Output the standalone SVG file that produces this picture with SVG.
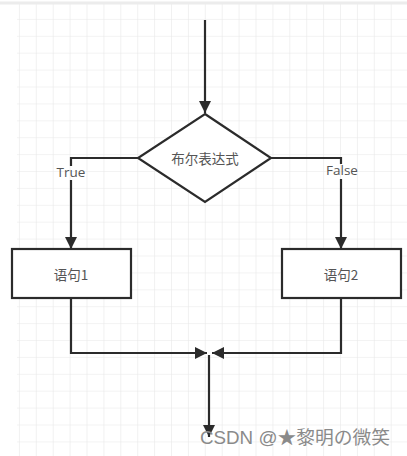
<svg xmlns="http://www.w3.org/2000/svg" width="407" height="456" viewBox="0 0 407 456">
<defs>
<pattern id="grid" x="3" y="3" width="16.9" height="16.9" patternUnits="userSpaceOnUse">
<path d="M16.9 0V16.9M0 16.9H16.9" fill="none" stroke="#e8e8e8" stroke-width="1.2"/>
</pattern>
<marker id="ah" viewBox="0 0 10 10" refX="10" refY="5" markerWidth="5.5" markerHeight="5.5" orient="auto" markerUnits="strokeWidth">
<path d="M0 0L10 5L0 10Z" fill="#2b2b2b"/>
</marker>
<style>
.ln{fill:none;stroke:#2b2b2b;stroke-width:2.2}
.shape{fill:#fff;stroke:#2b2b2b;stroke-width:2.2}
.t{font-family:"Noto Sans CJK SC","Noto Sans",sans-serif;font-size:13.5px;fill:#555;text-anchor:middle;dominant-baseline:central}
.lab{font-family:"Open Sans","Noto Sans",sans-serif;font-size:13.5px;fill:#555;text-anchor:middle;dominant-baseline:central}
.wm{font-family:"Liberation Sans","Noto Sans CJK SC",sans-serif;font-size:18.5px;fill:#8a8a8a}
</style>
</defs>
<rect width="407" height="456" fill="#fff"/>
<rect x="17" y="3" width="390" height="453" fill="url(#grid)"/>
<line x1="0" y1="3" x2="407" y2="3" stroke="#ececec" stroke-width="3"/>
<g id="connectors">
<path class="ln" d="M205 20V113" marker-end="url(#ah)"/>
<path class="ln" d="M138 158H71V166"/>
<path class="ln" d="M71 180V249" marker-end="url(#ah)"/>
<path class="ln" d="M271 158H341V164"/>
<path class="ln" d="M341 179V249" marker-end="url(#ah)"/>
<path class="ln" d="M71 298V353H207" marker-end="url(#ah)"/>
<path class="ln" d="M341 298V353H212" marker-end="url(#ah)"/>
<path class="ln" d="M209 355V437" marker-end="url(#ah)"/>
</g>
<g id="decision">
<polygon class="shape" points="205,114 271,158 205,202 138,158"/>
<text class="t" x="205" y="158">布尔表达式</text>
</g>
<g id="label-true"><text class="lab" x="71" y="172">True</text></g>
<g id="label-false"><text class="lab" x="342" y="170">False</text></g>
<g id="stmt1">
<rect class="shape" x="12" y="249" width="119" height="49"/>
<text class="t" x="71" y="274">语句1</text>
</g>
<g id="stmt2">
<rect class="shape" x="282" y="249" width="119" height="49"/>
<text class="t" x="341" y="274">语句2</text>
</g>
<text class="wm" x="200" y="444" textLength="190" lengthAdjust="spacingAndGlyphs">CSDN @★黎明の微笑</text>
</svg>
